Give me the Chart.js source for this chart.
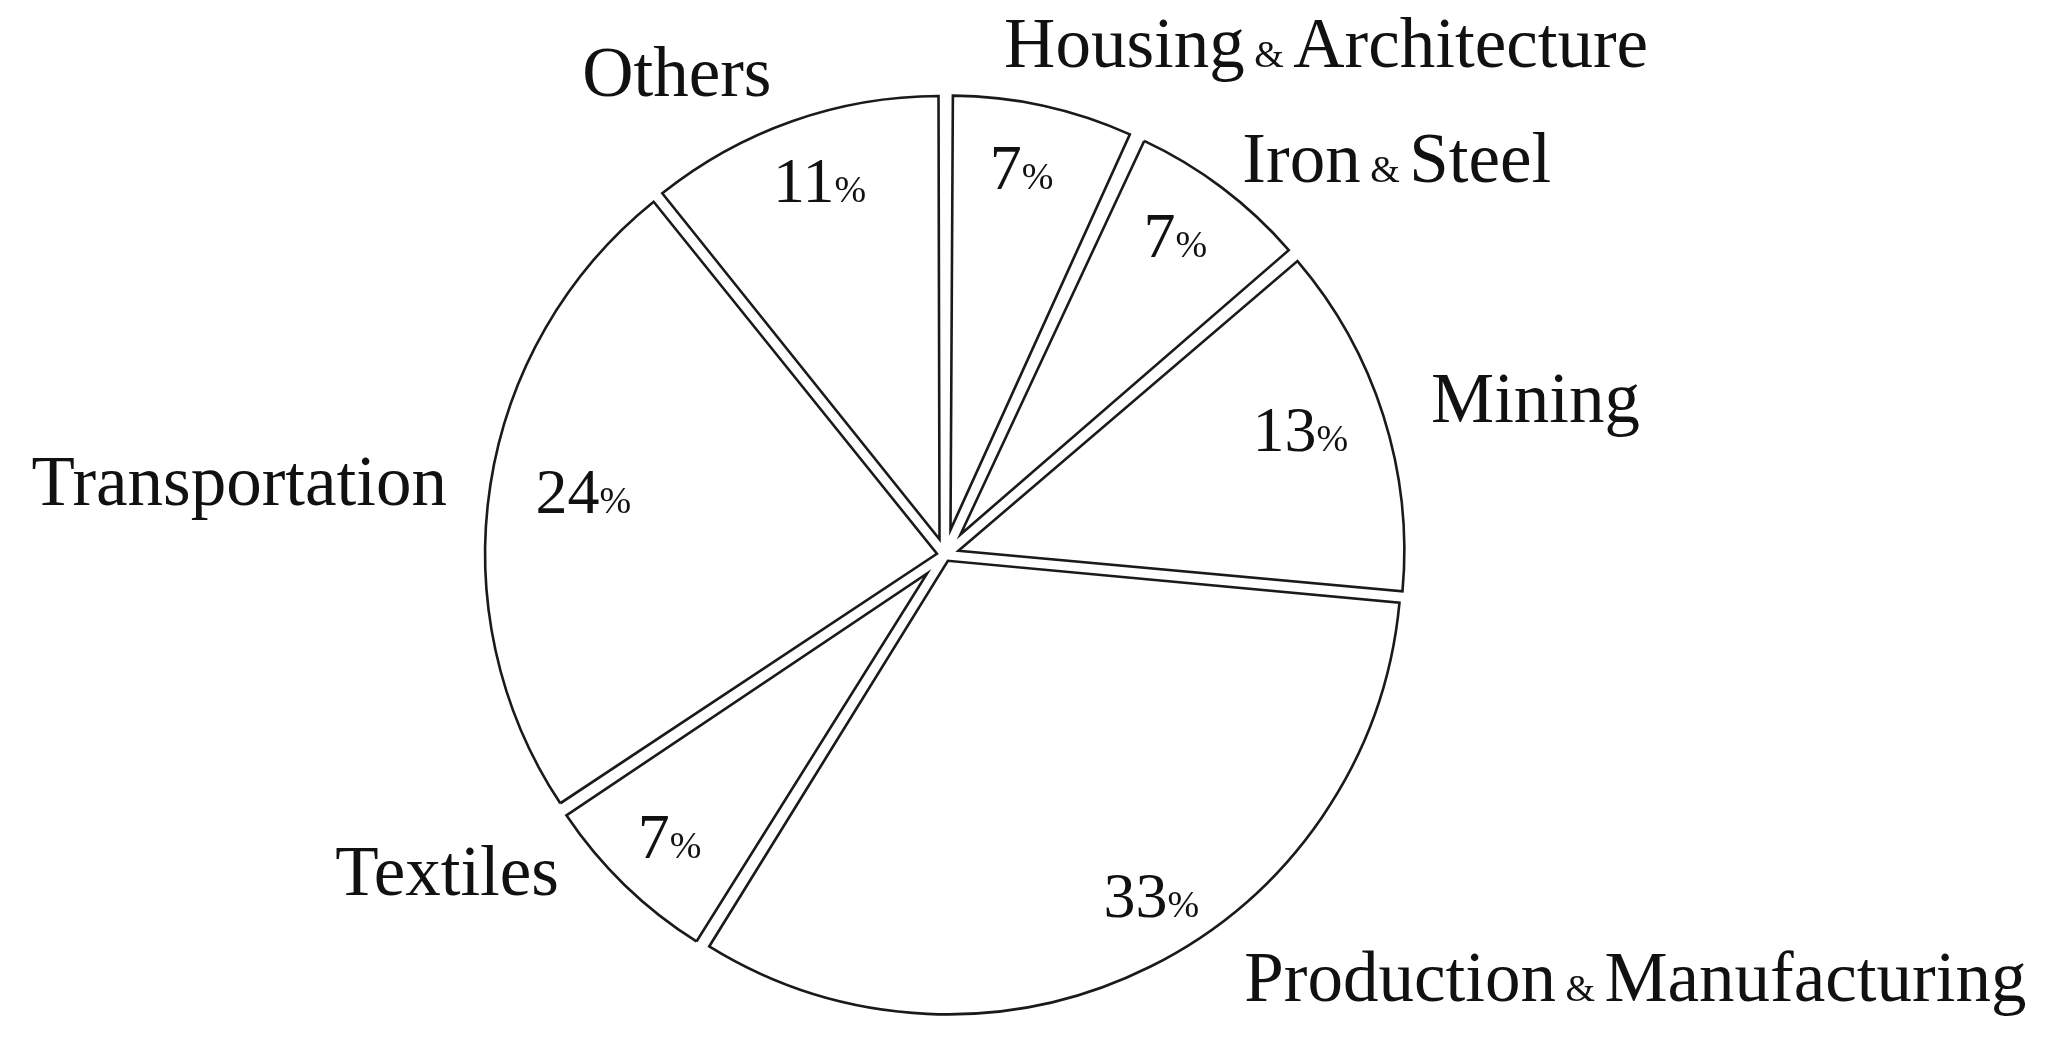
<!DOCTYPE html>
<html>
<head>
<meta charset="utf-8">
<title>Pie</title>
<script src="https://cdn.jsdelivr.net/npm/chart.js@4.4.1/dist/chart.umd.min.js"></script>
<style>
  html, body { margin: 0; padding: 0; background: #fff; }
  #wrap { width: 2053px; height: 1040px; position: relative; }
</style>
</head>
<body>
<div id="wrap"><canvas id="chart"></canvas></div>
<script>
"use strict";

// data
const categories = ["Housing & Architecture", "Iron & Steel", "Mining", "Production & Manufacturing", "Textiles", "Transportation", "Others"];
const shares = [7, 7, 13, 33, 7, 24, 11];

// label layout (px / radius fractions), not data
const labelNudge = [[-50, -12], [-10, 12], [0, 0], [72, -33], [-31, -48], [6, 6], [-4, 0]];
const pctRadius = [0.86, 0.86, 0.82, 0.86, 0.86, 0.80, 0.86];
const pctNudge = [[-8, -2], [-8, -4], [-4, -12], [30, -14], [0, -3], [2, -8], [6, -2]];

const LINE = "#1a1a1a";
const SERIF = "'Liberation Serif', 'Times New Roman', serif";
const GAP = 11;

const total = shares.reduce((a, b) => a + b, 0);

// slice shift so neighbouring edges stay parallel with a fixed gap
const sliceShift = shares.map(v => GAP / (2 * Math.sin(Math.PI * v / total)));

// draw text with a smaller "&" / "%" piece
function drawParts(ctx, parts, x, y, align) {
  let width = 0;
  parts.forEach(p => {
    ctx.font = p.font;
    width += ctx.measureText(p.text).width;
  });
  let cx = align === "right" ? x - width : align === "center" ? x - width / 2 : x;
  ctx.textAlign = "left";
  ctx.textBaseline = "alphabetic";
  parts.forEach(p => {
    ctx.font = p.font;
    ctx.fillText(p.text, cx, y);
    cx += ctx.measureText(p.text).width;
  });
}

function nameParts(name) {
  const big = `71px ${SERIF}`;
  const small = `38px ${SERIF}`;
  const bits = name.split(" & ");
  if (bits.length === 1) return [{ text: name, font: big }];
  return [
    { text: bits[0], font: big },
    { text: " & ", font: small },
    { text: bits[1], font: big }
  ];
}

// keep the shifted slices on the common circle
// (arc draw adds offset/4 * (1 - sin(circumference)) to the radius)
const shiftPlugin = {
  id: "sliceShift",
  beforeDatasetDraw(chart) {
    const meta = chart.getDatasetMeta(0);
    const base = meta.controller.outerRadius;
    meta.data.forEach((arc, i) => {
      const t = sliceShift[i];
      const fix = 1 - Math.sin(Math.min(Math.PI, arc.circumference));
      arc.outerRadius = base - t - t * fix;
    });
  }
};

const labelsPlugin = {
  id: "sliceLabels",
  afterDatasetsDraw(chart) {
    const ctx = chart.ctx;
    const meta = chart.getDatasetMeta(0);
    const R = meta.controller.outerRadius;
    ctx.save();
    ctx.fillStyle = "#111";
    meta.data.forEach((arc, i) => {
      const mid = (arc.startAngle + arc.endAngle) / 2;

      // percentage inside the slice
      const rIn = R * pctRadius[i];
      const px = arc.x + Math.cos(mid) * rIn + pctNudge[i][0];
      const py = arc.y + Math.sin(mid) * rIn + 22 + pctNudge[i][1];
      drawParts(ctx, [
        { text: String(shares[i]), font: `64px ${SERIF}` },
        { text: "%", font: `38px ${SERIF}` }
      ], px, py, "center");

      // category name outside
      const rOut = R + 50;
      const ax = arc.x + Math.cos(mid) * rOut + labelNudge[i][0];
      const ay = arc.y + Math.sin(mid) * rOut + 22 + labelNudge[i][1];
      const align = Math.cos(mid) >= 0 ? "left" : "right";
      drawParts(ctx, nameParts(categories[i]), ax, ay, align);
    });
    ctx.restore();
  }
};

new Chart(document.getElementById("chart"), {
  type: "pie",
  data: {
    labels: categories,
    datasets: [{
      data: shares,
      backgroundColor: "#ffffff",
      borderColor: LINE,
      borderWidth: 2.6,
      borderJoinStyle: "miter",
      offset: sliceShift.map(t => t * 4),
      radius: 460
    }]
  },
  options: {
    responsive: true,
    maintainAspectRatio: false,
    animation: false,
    layout: { padding: { left: 0, right: 163, top: 70, bottom: 0 } },
    plugins: {
      legend: { display: false },
      tooltip: { enabled: false }
    }
  },
  plugins: [shiftPlugin, labelsPlugin]
});
</script>
</body>
</html>
